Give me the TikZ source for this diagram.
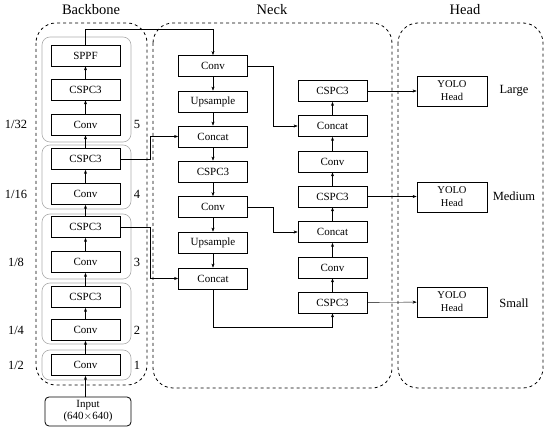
\documentclass[tikz,border=0pt]{standalone}
\usepackage{fontspec}
\setmainfont{Liberation Serif}
\usetikzlibrary{arrows.meta}

\begin{document}
\begin{tikzpicture}[x=1pt, y=-1pt, >={Stealth[length=4pt,width=3pt]}, font=\fontsize{11}{12}\selectfont,
	block/.style={draw, thick, minimum width=69pt, minimum height=21pt, inner sep=0pt},
	yolo/.style={draw, thick, minimum width=70pt, minimum height=30pt, inner sep=0pt, align=center, font=\fontsize{10.5}{13}\selectfont},
	region/.style={draw, thick, dashed, rounded corners=20pt},
	stage/.style={draw=gray!65, semithick, rounded corners=8pt},
	title/.style={font=\fontsize{14.5}{16}\selectfont},
	side/.style={font=\fontsize{12.5}{14}\selectfont}]
	\useasboundingbox (0,0) rectangle (550,435);
	% dashed regions
	\draw[region] (36,23) rectangle (147,385);
	\draw[region] (153,23) rectangle (392,388);
	\draw[region] (398,23) rectangle (543,388);
	\node[title] (tB) at (91,10) {Backbone};
	\node[title] (tN) at (272,10) {Neck};
	\node[title] (tH) at (465,10) {Head};
	% backbone stages
	\draw[stage] (42,37) rectangle (131,142);
	\draw[stage] (42,145) rectangle (131,209);
	\draw[stage] (42,214) rectangle (131,279);
	\draw[stage] (42,283) rectangle (131,344);
	\draw[stage] (42,350) rectangle (131,380);
	\foreach \n/\y/\s in {5/124.5/1\slash 32, 4/194/1\slash 16, 3/262/1\slash 8, 2/330/1\slash 4, 1/365/1\slash 2}{
		\node[side] (n\n) at (137,\y) {\n};
		\node[side] (s\n) at (16,\y) {\s};
	}
	% backbone blocks
	\node[draw, thick, rounded corners=4pt, minimum width=86pt, minimum height=29pt, align=center, inner sep=0pt] (In) at (88,411.5) {Input\\(640$\times$640)};
	\node[block] (B1) at (85.5,365) {Conv};
	\node[block] (B2) at (85.5,330) {Conv};
	\node[block] (B3) at (85.5,297) {CSPC3};
	\node[block] (B4) at (85.5,262) {Conv};
	\node[block] (B5) at (85.5,227) {CSPC3};
	\node[block] (B6) at (85.5,194) {Conv};
	\node[block] (B7) at (85.5,159) {CSPC3};
	\node[block] (B8) at (85.5,124.5) {Conv};
	\node[block] (B9) at (85.5,89.5) {CSPC3};
	\node[block] (B10) at (85.5,55.5) {SPPF};
	\draw[->] (In.north -| B1) -- (B1);
	\foreach \a/\b in {1/2, 2/3, 3/4, 4/5, 5/6, 6/7, 7/8, 8/9, 9/10}
		\draw[->] (B\a) -- (B\b);
	% neck, left column
	\node[block] (L1) at (213,66) {Conv};
	\node[block] (L2) at (213,101.5) {Upsample};
	\node[block] (L3) at (213,136.5) {Concat};
	\node[block] (L4) at (213,171.5) {CSPC3};
	\node[block] (L5) at (213,207) {Conv};
	\node[block] (L6) at (213,242.5) {Upsample};
	\node[block] (L7) at (213,278.5) {Concat};
	\foreach \a/\b in {1/2, 2/3, 3/4, 4/5, 5/6, 6/7}
		\draw[->] (L\a) -- (L\b);
	% neck, right column
	\node[block] (R1) at (332.5,302.5) {CSPC3};
	\node[block] (R2) at (332.5,267.5) {Conv};
	\node[block] (R3) at (332.5,232) {Concat};
	\node[block] (R4) at (332.5,196.5) {CSPC3};
	\node[block] (R5) at (332.5,161.5) {Conv};
	\node[block] (R6) at (332.5,126) {Concat};
	\node[block] (R7) at (332.5,91) {CSPC3};
	\foreach \a/\b in {1/2, 2/3, 3/4, 4/5, 5/6, 6/7}
		\draw[->] (R\a) -- (R\b);
	% head
	\node[yolo] (H1) at (452,91) {YOLO\\Head};
	\node[yolo] (H2) at (452,197) {YOLO\\Head};
	\node[yolo] (H3) at (452,302) {YOLO\\Head};
	\node[side] (lL) at (514,91) {Large};
	\node[side] (lM) at (514,196) {Medium};
	\node[side] (lS) at (514,303) {Small};
	% connections
	\coordinate (c1) at (85.5,29);
	\draw[->] (B10) -- (c1) -| (L1);
	\coordinate (c2) at (150,159);
	\draw[->] (B7) -- (c2) |- (L3);
	\coordinate (c3) at (150,227);
	\draw[->] (B5) -- (c3) |- (L7);
	\coordinate (c4) at (273,66);
	\draw[->] (L1) -- (c4) |- (R6);
	\coordinate (c5) at (273,207);
	\draw[->] (L5) -- (c5) |- (R3);
	\coordinate (c6) at (213,327);
	\draw[->] (L7) -- (c6) -| (R1);
	\draw[->] (R7) -- (H1);
	\draw[->] (R4.east) -- (R4.east -| H2.west);
	\draw[->] (R1) -- (H3);
\end{tikzpicture}
\end{document}
